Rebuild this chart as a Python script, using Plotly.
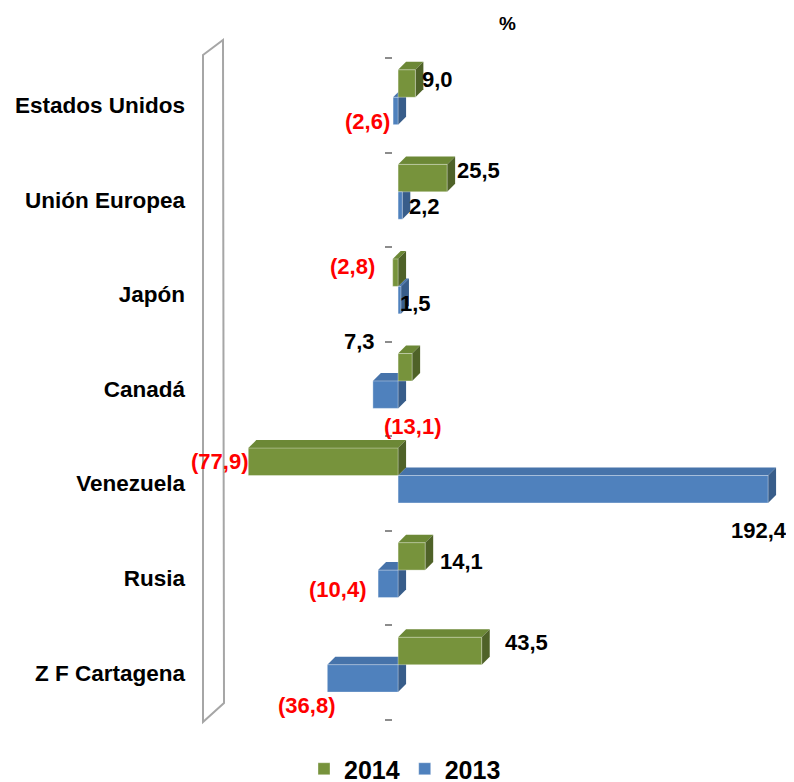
import plotly.graph_objects as go

# variación % por destino, 2014 vs 2013

categories = ["Estados Unidos", "Unión Europea", "Japón", "Canadá", "Venezuela", "Rusia", "Z F Cartagena"]
values_2014 = [9.0, 25.5, -2.8, 7.3, -77.9, 14.1, 43.5]
values_2013 = [-2.6, 2.2, 1.5, -13.1, 192.4, -10.4, -36.8]
series_names = ["2014", "2013"]

# label nudges in px (style only)
shift_2014 = [(22, 4), (31, 8), (-40, 6), (-53, 26), (-29, 0), (36, -5), (45, 8)]
shift_2013 = [(-26, -11), (22, -1), (15, -3), (40, -32), (-9, -41), (-41, -6), (-21, -27)]

FONT = "Liberation Sans, Arial, sans-serif"
PAGE = 8  # default body margin of the html page
W, H = 794 - PAGE, 782 - PAGE
L, R, T, B = 217, 14, 50, 62
XMIN, XMAX = -90, 198.6

green = dict(front="#77933C", top="#6C8836", side="#4F6228")
blue = dict(front="#4F81BD", top="#4673AA", side="#385D8A")

BAR_W = 0.29
OFF_2014, OFF_2013 = -0.375, -0.085

px_per_unit = (W - L - R) / (XMAX - XMIN)
DX = 8 / px_per_unit          # depth offset in x data units
DY = 8 / ((H - T - B) / len(categories))  # depth offset in y data units


def fmt(v):
    s = f"{abs(v):.1f}".replace(".", ",")
    return f"({s})" if v < 0 else s


def faces(vals, off, col):
    out = []
    for i, v in enumerate(vals):
        x0, x1 = min(0, v), max(0, v)
        yt, yb = i + off, i + off + BAR_W
        top = (f"M {x0},{yt} L {x0 + DX},{yt - DY} L {x1 + DX},{yt - DY} L {x1},{yt} Z")
        side = (f"M {x1},{yt} L {x1 + DX},{yt - DY} L {x1 + DX},{yb - DY} L {x1},{yb} Z")
        out.append(dict(type="path", path=top, xref="x", yref="y", layer="below",
                        fillcolor=col["top"], line=dict(width=0)))
        out.append(dict(type="path", path=side, xref="x", yref="y", layer="below",
                        fillcolor=col["side"], line=dict(width=0)))
    return out


def px(x, y):
    # page pixel -> paper fraction
    x, y = x - PAGE, y - PAGE
    return (x - L) / (W - L - R), (H - B - y) / (H - T - B)


idx = list(range(len(categories)))

fig = go.Figure()

for name, vals, off, col in [(series_names[0], values_2014, OFF_2014, green),
                             (series_names[1], values_2013, OFF_2013, blue)]:
    fig.add_trace(go.Bar(
        y=idx, x=vals, orientation="h", name=name,
        width=BAR_W, offset=off,
        marker=dict(color=col["front"], line=dict(color="rgba(255,255,255,0.35)", width=1)),
        hoverinfo="x+y",
    ))

# carrier for the tick dashes next to the zero line
fig.add_trace(go.Scatter(x=[None], y=[None], yaxis="y2", showlegend=False, hoverinfo="skip"))

shapes = faces(values_2013, OFF_2013, blue) + faces(values_2014, OFF_2014, green)

# side wall of the 3d frame
a, b, c, d = px(203, 55), px(223, 40), px(224, 703), px(203, 722)
shapes.append(dict(type="path", xref="paper", yref="paper",
                   path=f"M {a[0]},{a[1]} L {b[0]},{b[1]} L {c[0]},{c[1]} L {d[0]},{d[1]} Z",
                   line=dict(color="#A6A6A6", width=2), fillcolor="rgba(0,0,0,0)"))

annotations = []
for vals, off, shifts in [(values_2014, OFF_2014, shift_2014), (values_2013, OFF_2013, shift_2013)]:
    for i, v in enumerate(vals):
        annotations.append(dict(
            x=v, y=i + off + BAR_W / 2, xref="x", yref="y", text=fmt(v), showarrow=False,
            xshift=shifts[i][0], yshift=shifts[i][1],
            font=dict(family=FONT, size=22, weight="bold", color="red" if v < 0 else "black"),
        ))

pct = px(507, 23)
annotations.append(dict(x=pct[0], y=pct[1], xref="paper", yref="paper", text="%", showarrow=False,
                        xanchor="center", yanchor="middle",
                        font=dict(family=FONT, size=19, weight="bold", color="black")))

fig.update_layout(
    width=W, height=H,
    margin=dict(l=L, r=R, t=T, b=B),
    paper_bgcolor="white", plot_bgcolor="rgba(0,0,0,0)",
    barmode="overlay",
    shapes=shapes,
    annotations=annotations,
    xaxis=dict(range=[XMIN, XMAX], visible=False, fixedrange=True, automargin=False),
    yaxis=dict(range=[len(categories) - 0.5, -0.5], tickmode="array", tickvals=idx, ticktext=categories,
               showgrid=False, zeroline=False, showline=False, ticks="",
               ticklabelstandoff=39, automargin=False,
               tickfont=dict(family=FONT, size=22.5, weight="bold", color="black")),
    yaxis2=dict(overlaying="y", anchor="free", position=px(392, 0)[0], side="left",
                range=[len(categories) - 0.5, -0.5], tickmode="array",
                tickvals=[i - 0.5 for i in range(len(categories) + 1)],
                showticklabels=False, ticks="outside", ticklen=7, tickwidth=2, tickcolor="#8C8C8C",
                showgrid=False, zeroline=False, showline=False, automargin=False),
    showlegend=True,
    legend=dict(orientation="h", xref="container", yref="container",
                x=(405 - PAGE) / W, y=1 - (769 - PAGE) / H, xanchor="center", yanchor="middle",
                font=dict(family=FONT, size=25, weight="bold", color="black"),
                itemclick=False, itemdoubleclick=False),
)

fig.write_html("out.html")
